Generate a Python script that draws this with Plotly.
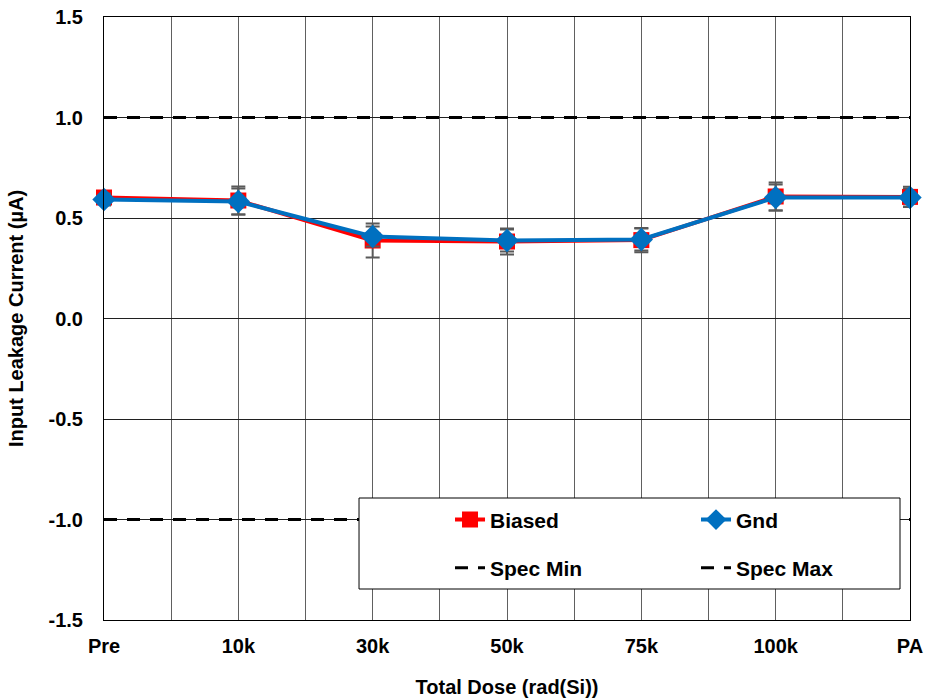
import plotly.graph_objects as go

categories = ["Pre", "10k", "30k", "50k", "75k", "100k", "PA"]
positions = [0, 1, 2, 3, 4, 5, 6]

biased = [0.602, 0.587, 0.388, 0.383, 0.390, 0.607, 0.605]
biased_err = [0.03, 0.07, 0.085, 0.065, 0.06, 0.07, 0.05]
gnd = [0.592, 0.582, 0.408, 0.388, 0.393, 0.602, 0.602]
gnd_err = [0.03, 0.065, 0.05, 0.055, 0.055, 0.065, 0.045]
spec_min = [-1.0, -1.0, -1.0, -1.0, -1.0, -1.0, -1.0]
spec_max = [1.0, 1.0, 1.0, 1.0, 1.0, 1.0, 1.0]

FONT = "Liberation Sans, Arial, sans-serif"

fig = go.Figure()

fig.add_trace(go.Scatter(
    x=positions, y=spec_min, name="Spec Min", mode="lines",
    line=dict(color="black", width=3, dash="13px,10px"),
    legend="legend", legendgroup="smin", legendrank=2, cliponaxis=False))
fig.add_trace(go.Scatter(
    x=positions, y=spec_max, name="Spec Max", mode="lines",
    line=dict(color="black", width=3, dash="13px,10px"),
    legend="legend2", legendgroup="smax", legendrank=2, cliponaxis=False))
fig.add_trace(go.Scatter(
    x=positions, y=biased, name="Biased", mode="lines+markers",
    line=dict(color="#FF0000", width=4),
    marker=dict(symbol="square", size=16, color="#FF0000"),
    error_y=dict(type="data", array=biased_err, color="#595959", thickness=2, width=7),
    legend="legend", legendgroup="b", legendrank=1, cliponaxis=False))
fig.add_trace(go.Scatter(
    x=positions, y=gnd, name="Gnd", mode="lines+markers",
    line=dict(color="#0070C0", width=4),
    marker=dict(symbol="diamond", size=18, color="#0070C0"),
    error_y=dict(type="data", array=gnd_err, color="#595959", thickness=2, width=7),
    legend="legend2", legendgroup="g", legendrank=1, cliponaxis=False))

legend_common = dict(
    font=dict(family=FONT, size=21, color="black", weight="bold"),
    bgcolor="rgba(0,0,0,0)", borderwidth=0,
    traceorder="grouped", tracegroupgap=18,
    xanchor="left", yanchor="top", y=0.2,
)

fig.update_layout(
    width=928, height=698,
    margin=dict(l=104, r=18, t=17, b=78),
    paper_bgcolor="white", plot_bgcolor="white",
    font=dict(family=FONT, color="black"),
    showlegend=True,
    legend=dict(x=0.4293, **legend_common),
    legend2=dict(x=0.7345, **legend_common),
    shapes=[dict(
        type="rect", xref="paper", yref="paper",
        x0=0.3164, x1=0.9876, y0=0.0514, y1=0.2023,
        line=dict(color="black", width=1), fillcolor="white", layer="above")],
)

fig.update_xaxes(
    range=[0, 6], tickvals=positions, ticktext=categories,
    tickfont=dict(family=FONT, size=20, weight="bold"),
    ticks="outside", ticklen=8, tickcolor="rgba(0,0,0,0)",
    ticklabeloverflow="allow",
    showgrid=True, gridcolor="#606060", gridwidth=1,
    minor=dict(dtick=0.5, tick0=0, showgrid=True, gridcolor="#606060", gridwidth=1),
    showline=True, linecolor="black", linewidth=1, mirror=True,
    zeroline=False, automargin=False,
    title=dict(text="Total Dose (rad(Si))", font=dict(family=FONT, size=20, weight="bold"), standoff=23),
)
fig.update_yaxes(
    range=[-1.5, 1.5], tickvals=[-1.5, -1.0, -0.5, 0.0, 0.5, 1.0, 1.5],
    ticktext=["-1.5", "-1.0", "-0.5", "0.0", "0.5", "1.0", "1.5"],
    tickfont=dict(family=FONT, size=20, weight="bold"),
    ticks="outside", ticklen=16, tickcolor="rgba(0,0,0,0)",
    ticklabeloverflow="allow",
    showgrid=True, gridcolor="#202020", gridwidth=1,
    showline=True, linecolor="black", linewidth=1, mirror=True,
    zeroline=False, automargin=False,
    title=dict(text="Input Leakage Current (µA)", font=dict(family=FONT, size=20, weight="bold"), standoff=19),
)

fig.write_html("out.html", config={"displayModeBar": False},
               post_script="document.body.style.margin='0';")
